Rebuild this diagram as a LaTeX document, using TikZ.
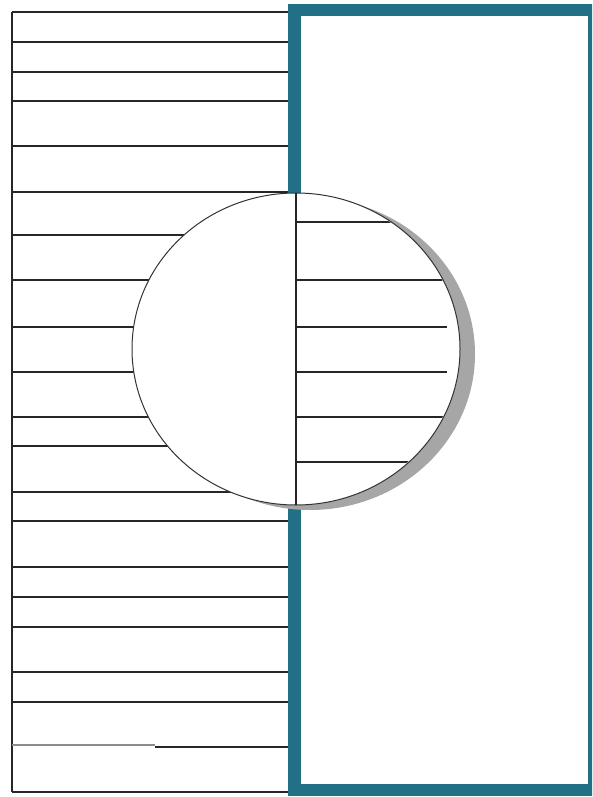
\documentclass[tikz,border=0pt]{standalone}
\usepackage{tikz}
\usetikzlibrary{calc}

\definecolor{frameteal}{RGB}{33,112,133}
\tikzset{
  rule/.style={black!85, line width=1.3pt},
  faintrule/.style={black!45, line width=1.3pt},
  tealframe/.style={frameteal, line width=12.5pt},
  disc/.style={fill=white, draw=black!80, line width=1pt},
  discshadow/.style={fill=black!35}
}

\begin{document}
\begin{tikzpicture}[x=1pt, y=-1pt]
    \useasboundingbox (0,0) rectangle (592,797);
    \clip (0,0) rectangle (592,797);

    % Ruled sheet on the left
    \draw[rule] (12,12) -- (12,792);
    \foreach \y in {12,42,72,101,146,192,235,280,327,372,417,446,492,521,567,597,627,672,702,792}
        \draw[rule] (12,\y) -- (291,\y);
    \draw[faintrule] (12,745) -- (155,745);
    \draw[rule] (155,747) -- (291,747);

    % Teal frame on the right
    \draw[tealframe] (294.5,10) rectangle (594,790);

    % Disc with its shadow
    \coordinate (c) at (296,349);
    \fill[discshadow] ($(c)+(14,5)$) ellipse [x radius=165, y radius=156];
    \draw[disc] (c) ellipse [x radius=164, y radius=156];

    % Rules inside the right half of the disc
    \begin{scope}
        \clip (c) ellipse [x radius=163, y radius=155];
        \foreach \y in {222,280,327,372,417,462}
            \draw[rule, line width=1.1pt] (296,\y) -- (447,\y);
    \end{scope}

    % Dividing line
    \draw[black!85, line width=1.1pt] (296,193) -- (296,505);
\end{tikzpicture}
\end{document}
